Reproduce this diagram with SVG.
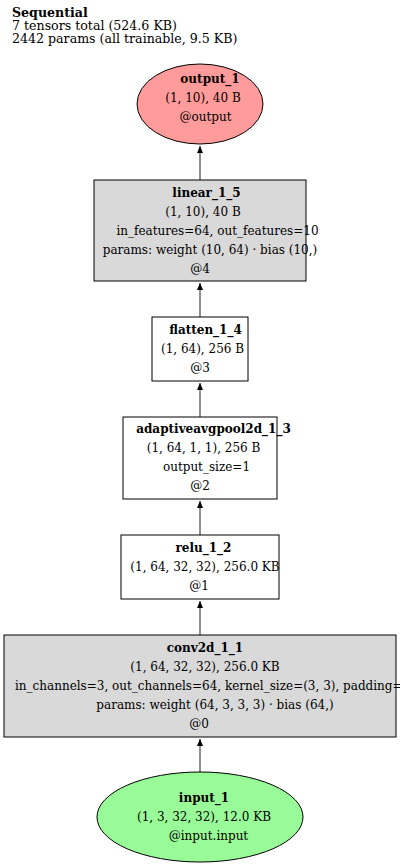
<svg xmlns="http://www.w3.org/2000/svg" width="400" height="868" viewBox="0 0 400 868">
<defs>
<style>
text{font-family:"DejaVu Serif","Liberation Serif",serif;font-size:12px;fill:#000}
.t{font-size:12.6px}
.b{font-weight:bold}
.c{text-anchor:middle}
.box{stroke:#000;stroke-width:1}
.edge{stroke:#555;stroke-width:1.3;fill:none}
</style>
<marker id="ah" markerWidth="8" markerHeight="10" refX="7" refY="4" orient="auto" markerUnits="userSpaceOnUse" viewBox="0 0 8 8">
<path d="M0,1 L7,4 L0,7 z" fill="#000"/>
</marker>
</defs>
<rect width="400" height="868" fill="#fff"/>
<g id="title">
<text x="12" y="17" class="t b">Sequential</text>
<text x="12" y="30" class="t">7 tensors total (524.6 KB)</text>
<text x="12" y="43" class="t">2442 params (all trainable, 9.5 KB)</text>
</g>
<g id="connectors">
<line class="edge" x1="200" y1="772" x2="200" y2="739" marker-end="url(#ah)"/>
<line class="edge" x1="200" y1="635" x2="200" y2="601" marker-end="url(#ah)"/>
<line class="edge" x1="200" y1="535" x2="200" y2="501" marker-end="url(#ah)"/>
<line class="edge" x1="200" y1="417" x2="200" y2="383" marker-end="url(#ah)"/>
<line class="edge" x1="200" y1="317" x2="200" y2="283" marker-end="url(#ah)"/>
<line class="edge" x1="200" y1="180" x2="200" y2="146" marker-end="url(#ah)"/>
</g>
<g id="output_1">
<ellipse class="box" cx="200" cy="104" rx="63" ry="40" fill="#ff9b9b"/>
<text x="210" y="83" class="b c">output_1</text>
<text x="203" y="102" class="c">(1, 10), 40 B</text>
<text x="205.5" y="121" class="c">@output</text>
</g>
<g id="linear_1_5">
<rect class="box" x="94" y="180" width="212" height="101" fill="#d9d9d9"/>
<text x="206.5" y="197" class="b c">linear_1_5</text>
<text x="203" y="216" class="c">(1, 10), 40 B</text>
<text x="217.5" y="235" class="c">in_features=64, out_features=10</text>
<text x="210" y="254" class="c">params: weight (10, 64) · bias (10,)</text>
<text x="200" y="273" class="c">@4</text>
</g>
<g id="flatten_1_4">
<rect class="box" x="152" y="317" width="96" height="64" fill="#fff"/>
<text x="205.5" y="334" class="b c">flatten_1_4</text>
<text x="202.5" y="353" class="c">(1, 64), 256 B</text>
<text x="200" y="372" class="c">@3</text>
</g>
<g id="adaptiveavgpool2d_1_3">
<rect class="box" x="123" y="417" width="154" height="82" fill="#fff"/>
<text x="213.5" y="433" class="b c">adaptiveavgpool2d_1_3</text>
<text x="203.5" y="452" class="c">(1, 64, 1, 1), 256 B</text>
<text x="206.5" y="471" class="c">output_size=1</text>
<text x="200" y="490" class="c">@2</text>
</g>
<g id="relu_1_2">
<rect class="box" x="121" y="535" width="158" height="64" fill="#fff"/>
<text x="203.5" y="552" class="b c">relu_1_2</text>
<text x="205" y="571" class="c">(1, 64, 32, 32), 256.0 KB</text>
<text x="199" y="590" class="c">@1</text>
</g>
<g id="conv2d_1_1">
<rect class="box" x="4" y="635" width="392" height="102" fill="#d9d9d9"/>
<text x="205" y="652" class="b c">conv2d_1_1</text>
<text x="205" y="671" class="c">(1, 64, 32, 32), 256.0 KB</text>
<text x="15" y="690">in_channels=3, out_channels=64, kernel_size=(3, 3), padding=(1, 1)</text>
<text x="215" y="709" class="c">params: weight (64, 3, 3, 3) · bias (64,)</text>
<text x="199" y="728" class="c">@0</text>
</g>
<g id="input_1">
<ellipse class="box" cx="200" cy="817" rx="103" ry="45" fill="#98fb98"/>
<text x="204" y="802" class="b c">input_1</text>
<text x="204" y="821" class="c">(1, 3, 32, 32), 12.0 KB</text>
<text x="208.5" y="840" class="c">@input.input</text>
</g>
</svg>
